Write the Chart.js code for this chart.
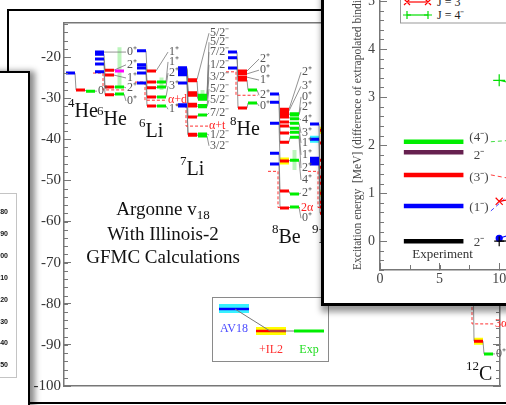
<!DOCTYPE html>
<html>
<head>
<meta charset="utf-8">
<script src="https://cdn.jsdelivr.net/npm/chart.js@4.4.0/dist/chart.umd.min.js"></script>
<style>
  html, body { margin: 0; padding: 0; background: #fff; }
  body { width: 506px; height: 405px; position: relative; overflow: hidden; font-family: "Liberation Serif", "Times New Roman", serif; }
  .abs { position: absolute; }
  #mainFrame { left: 7px; top: 9px; width: 560px; height: 391px; border-top: 2px solid #000; border-left: 2px solid #000; border-bottom: 2px solid #000; background: #fff; }
  #sidePanel { left: -12px; top: 71px; width: 40px; height: 360px; border-top: 2px solid #000; border-right: 2px solid #000; background: #fff; box-shadow: 5px 0 6px rgba(0,0,0,.45); }
  #sideBox { left: -10px; top: 193px; width: 25px; height: 183px; border: 1px solid #c4c4c4; }
  .yr { position: absolute; left: -30px; width: 38px; text-align: right; font: bold 7px "Liberation Sans", Arial, sans-serif; color: #111; line-height: 8px; }
  #rightPanel { left: 321px; top: -20px; width: 300px; height: 323px; border-left: 3px solid #000; border-bottom: 3px solid #000; background: #fff; box-shadow: 0 6px 6px rgba(0,0,0,.4); }
  #spinChart { left: 324px; top: -70px; }
</style>
</head>
<body>
<div id="mainFrame" class="abs"></div>
<canvas id="levelChart" class="abs" width="506" height="405" style="left:0;top:0"></canvas>

<svg class="abs" style="left:212px;top:297px" width="118" height="66">
  <rect x="0.5" y="0.5" width="116" height="64" fill="none" stroke="#8a8a8a" stroke-width="1"/>
  <rect x="7" y="7" width="30" height="9" fill="#38f2ff"/>
  <line x1="7" y1="12" x2="37" y2="12" stroke="#0000ff" stroke-width="2.5"/>
  <rect x="44" y="30" width="30" height="8" fill="#ffff00"/>
  <line x1="44" y1="34" x2="74" y2="34" stroke="#ff0000" stroke-width="2.5"/>
  <line x1="23" y1="12" x2="58" y2="34" stroke="#777" stroke-width="1"/>
  <line x1="58" y1="34" x2="82" y2="34" stroke="#777" stroke-width="1"/>
  <line x1="82" y1="34" x2="112" y2="34" stroke="#00ee00" stroke-width="3"/>
  <text x="22" y="35" text-anchor="middle" font-size="12" font-family="Liberation Serif" fill="#4a4aff">AV18</text>
  <text x="59" y="56" text-anchor="middle" font-size="12" font-family="Liberation Serif" fill="#ff3030">+IL2</text>
  <text x="97" y="56" text-anchor="middle" font-size="12" font-family="Liberation Serif" fill="#22dd22">Exp</text>
</svg>

<div id="sidePanel" class="abs"></div>
<div id="sideBox" class="abs"></div>
<div id="sideNums"></div>

<div id="rightPanel" class="abs"></div>
<canvas id="spinChart" class="abs" width="400" height="373"></canvas>
<svg class="abs" style="left:400px;top:-20px" width="110" height="44">
  <rect x="0.5" y="0.5" width="130" height="42.5" fill="#fff" stroke="#999" stroke-width="1"/>
  <line x1="7" y1="22" x2="28" y2="22" stroke="#ff0000" stroke-width="1.2"/>
  <path d="M4 19 L10 25 M10 19 L4 25 M25 19 L31 25 M31 19 L25 25" stroke="#ff0000" stroke-width="1.2"/>
  <text x="37" y="25.5" font-size="12" font-family="Liberation Serif" fill="#222">J = 3⁻</text>
  <line x1="7" y1="35" x2="28" y2="35" stroke="#00dd00" stroke-width="1.2"/>
  <path d="M7 31 L7 39 M3 35 L11 35 M28 31 L28 39 M24 35 L32 35" stroke="#00dd00" stroke-width="1.2"/>
  <text x="37" y="39" font-size="12" font-family="Liberation Serif" fill="#222">J = 4⁻</text>
</svg>

<script>
// ---- nuclei (left to right) ----
const massNumbers = ['4', '6', '6', '7', '8', '8', '9', '12'];
const symbols = ['He', 'He', 'Li', 'Li', 'He', 'Be', 'Be', 'C'];
const columnPos = [2, 31, 73, 114, 164, 206, 246, 400];

// level energies in MeV, one entry per state, ground state first
const av18Levels = [
  [-23.9],
  [-23.6, -21.7, -20.5, -19.3, -18.8],
  [-26.3, -23.9, -22.7, -21.9, -18.5],
  [-31.9, -31.6, -26.3, -24.3, -24.1, -23.8, -23.5, -23.2, -22.9, -22.6],
  [-22.7, -20.2, -18.8, null, null],
  [-46.0, -43.4, -36.1, -31.0, -29.0, null, null, null, null, null, null, null],
  [-46.0, -45.3, -44.6, -40.0, -36.3],
  [-70.3]
];
const il2Levels = [
  [-28.0],
  [-29.2, -27.3, -24.4, -23.2, null],
  [-31.9, -29.7, -27.5, -26.1, -23.4],
  [-39.0, -38.8, -34.6, -31.9, -31.5, -29.3, -29.0, -28.7, -25.8, -25.5],
  [-32.4, -25.6, -24.9, -24.1, -23.4],
  [-56.7, -52.6, -45.3, -40.7, -38.5, -36.8, -35.8, -34.6, -33.9, -33.5, -33.1, -32.7],
  [-58.0, -56.5, -55.3, -53.1, -50.7, -49.2, -46.8, -45.1, -40.9, -37.8],
  [-89.1]
];
const expLevels = [
  [-28.3],
  [-29.0, -27.3, null, null, null],
  [-31.9, -29.7, -27.3, -26.1, null],
  [-39.2, -38.7, -34.1, -32.1, -31.8, -30.3, -30.0, -29.6, -29.3, null],
  [-31.2, -28.0, null, null, null],
  [-56.5, -53.3, -45.1, -39.5, -38.3, -37.3, -36.1, -35.0, -34.1, -33.8, null, null],
  [-58.2, -56.5, -55.7, -55.4, -55.1, -53.5, -52.6, -51.8, -51.4, -50.2],
  [-92.2]
];
const stateLabels = [
  ['0⁺'],
  ['0⁺', '2⁺', '1⁺', '2⁺', '0⁺'],
  ['1⁺', '3⁺', '2⁺', '1⁺', '1⁺'],
  ['3/2⁻', '1/2⁻', '7/2⁻', '5/2⁻', '5/2⁻', '3/2⁻', '1/2⁻', '7/2⁻', '5/2⁻', '5/2⁻'],
  ['0⁺', '2⁺', '1⁺', '0⁺', '2⁺'],
  ['0⁺', '2⁺', '4⁺', '2⁺', '1⁺', '1⁺', '3⁺', '4⁺', '2⁺', '0⁺', '3⁺', '2⁺'],
  [],
  ['0⁺']
];
// tentative experimental level, broad experimental states (low, high)
const tentativeExp = [[], [-23.4], [], [], [], [], [], []];
const broadExp = [[], [[-17.6, -27.3]], [[-25.0, -28.0]], [[-28.0, -30.5]], [], [[-42.6, -47.5]], [], []];
// highlighted levels
const il2Marked = [[], [], [], [], [], [-33.9, -45.3], [-37.8, -53.1], [-89.1]];
const av18Marked = [[], [], [], [], [], [], [-40.0], []];
// breakup thresholds: AV18 value, IL2/experiment value
const thresholdNames = ['', '', 'α+d', 'α+t', '', '2α', '', '3α'];
const thresholdAV18 = [null, -23.9, -26.1, -31.7, -23.6, -47.8, -47.8, -72.3];
const thresholdExp = [null, -28.0, -30.5, -36.8, -29.3, -56.6, -56.6, -84.9];

// ---- label placement (energy axis) ----
const stateLabelE = [
  [-28.3],
  [-30.7, -27.5, -25.1, -21.9, -18.8],
  [-32.7, -27.1, -23.9, -21.2, -18.8],
  [-41.6, -39.0, -33.6, -30.5, -27.8, -24.9, -21.9, -18.8, -16.4, -14.2],
  [-31.9, -29.3, -25.6, -23.2, -20.5],
  [-59.2, -53.1, -49.9, -47.0, -43.8, -40.9, -38.5, -35.3, -32.2, -29.7, -27.1, -23.7],
  [],
  [-92.2]
];
const nameBaseline = [-34.6, -36.5, -39.5, -48.7, -39.0, -65.3, -65.3, -98.6];

// ---- spin-state panel ----
const expSpan = [2, 7];
const expLevelsR = [0, 0.73, 1.38, 1.85, 2.07];
const expNamesR = ['2⁻', '(1⁻)', '(3⁻)', '2⁻', '(4⁻)'];
const expNamePosR = [-0.02, 0.69, 1.33, 1.79, 2.15];
const calcX = [10, 15];
const calcJ1 = [0.06, 0.45];
const calcJ2 = [0, 0.02];
const calcJ3 = [0.83, 1.05];
const calcJ4 = [3.35, 3.05];
const linkX = [9.3, 11];
const linkJ1 = [0.63, 1.0];
const linkJ3 = [1.38, 1.3];
const linkJ4 = [2.07, 2.1];

const FONT = '"Liberation Serif", "Times New Roman", serif';
const AXIS = '#777';
const COL = [0, 10, 20];  // AV18, +IL2, Exp column offsets
const BAR = 9;
const LABEL_DX = 32;

// side panel year column
const sideNums = document.getElementById('sideNums');
['180', '190', '200', '210', '220', '230', '240', '250'].forEach((t, i) => {
  const d = document.createElement('div');
  d.className = 'yr';
  d.style.top = (208 + i * 21.9) + 'px';
  d.textContent = t;
  sideNums.appendChild(d);
});

// draws short minor tick marks inward from an axis
const minorTicks = {
  id: 'minorTicks',
  afterDraw(chart, args, opts) {
    const ctx = chart.ctx;
    ctx.save();
    ctx.strokeStyle = AXIS;
    ctx.lineWidth = 1;
    (opts.axes || []).forEach(a => {
      const s = chart.scales[a.id];
      ctx.beginPath();
      const first = Math.ceil(s.min / a.step - 1e-9) * a.step;
      for (let v = first; v <= s.max + 1e-9; v += a.step) {
        const p = Math.round(s.getPixelForValue(v)) + 0.5;
        if (s.position === 'bottom') { ctx.moveTo(p, s.top); ctx.lineTo(p, s.top - a.len); }
        else if (s.position === 'left') { ctx.moveTo(s.right, p); ctx.lineTo(s.right + a.len, p); }
        else { ctx.moveTo(s.left, p); ctx.lineTo(s.left - a.len, p); }
      }
      ctx.stroke();
    });
    ctx.restore();
  }
};

// ---- level diagram ----
function addSeg(arr, x1, y1, x2, y2) {
  arr.push({ x: x1, y: y1 }, { x: x2, y: y2 }, { x: x2, y: null });
}

const segs = { av18: [], il2: [], exp: [], tent: [], broad: [], markIL2: [], markAV18: [], links: [], leaders: [], thr: [] };
const colKeys = ['av18', 'il2', 'exp'];

columnPos.forEach((x0, n) => {
  const rows = [av18Levels[n], il2Levels[n], expLevels[n]];
  rows.forEach((lv, c) => lv.forEach(e => {
    if (e !== null) addSeg(segs[colKeys[c]], x0 + COL[c], e, x0 + COL[c] + BAR, e);
  }));
  const nStates = Math.max(...rows.map(r => r.length));
  for (let i = 0; i < nStates; i++) {
    const a = rows[0][i], b = rows[1][i], c = rows[2][i];
    if (a != null && b != null) addSeg(segs.links, x0 + COL[0] + BAR, a, x0 + COL[1], b);
    if (b != null && c != null) addSeg(segs.links, x0 + COL[1] + BAR, b, x0 + COL[2], c);
  }
  stateLabels[n].forEach((t, i) => {
    let k = 2;
    while (k >= 0 && rows[k][i] == null) k--;
    if (k >= 0) addSeg(segs.leaders, x0 + COL[k] + BAR, rows[k][i], x0 + LABEL_DX - 1, stateLabelE[n][i]);
  });
  tentativeExp[n].forEach(e => addSeg(segs.tent, x0 + COL[2], e, x0 + COL[2] + BAR, e));
  broadExp[n].forEach(([lo, hi]) => addSeg(segs.broad, x0 + COL[2] + 4.5, lo, x0 + COL[2] + 4.5, hi));
  il2Marked[n].forEach(e => addSeg(segs.markIL2, x0 + COL[1], e, x0 + COL[1] + BAR, e));
  av18Marked[n].forEach(e => addSeg(segs.markAV18, x0 + COL[0], e, x0 + COL[0] + BAR, e));
  if (thresholdExp[n] != null) {
    const ta = thresholdAV18[n], te = thresholdExp[n], xv = x0 + 8;
    segs.thr.push({ x: x0 - 2, y: ta }, { x: xv, y: ta }, { x: xv, y: te }, { x: x0 + 30, y: te }, { x: x0 + 30, y: null });
  }
});

const lineSet = (label, data, color, width, order, dash) => ({
  type: 'line', label, data, borderColor: color, borderWidth: width, borderDash: dash || [],
  pointRadius: 0, spanGaps: false, tension: 0, order, fill: false
});

const levelText = {
  id: 'levelText',
  afterDatasetsDraw(chart) {
    const { ctx, scales: { x, y } } = chart;
    ctx.save();
    ctx.textAlign = 'left';
    columnPos.forEach((x0, n) => {
      ctx.textBaseline = 'middle';
      ctx.font = `12px ${FONT}`;
      ctx.fillStyle = '#555';
      stateLabels[n].forEach((t, i) => {
        ctx.fillText(t, x.getPixelForValue(x0 + LABEL_DX), y.getPixelForValue(stateLabelE[n][i]));
      });
      if (thresholdNames[n]) {
        ctx.fillStyle = '#ff2020';
        ctx.fillText(thresholdNames[n], x.getPixelForValue(x0 + LABEL_DX - 1), y.getPixelForValue(thresholdExp[n]));
      }
      // nucleus name with raised mass number
      ctx.textBaseline = 'alphabetic';
      ctx.fillStyle = '#111';
      const px = x.getPixelForValue(x0 + 2), py = y.getPixelForValue(nameBaseline[n]);
      ctx.font = `13px ${FONT}`;
      const w = ctx.measureText(massNumbers[n]).width;
      ctx.fillText(massNumbers[n], px, py - 10);
      ctx.font = `20px ${FONT}`;
      ctx.fillText(symbols[n], px + w, py);
    });
    // caption
    const cx = x.getPixelForValue(99);
    ctx.fillStyle = '#111';
    ctx.font = `19px ${FONT}`;
    const w1 = ctx.measureText('Argonne v').width;
    ctx.font = `13px ${FONT}`;
    const w2 = ctx.measureText('18').width;
    const y1 = y.getPixelForValue(-58.4);
    ctx.font = `19px ${FONT}`;
    ctx.fillText('Argonne v', cx - (w1 + w2) / 2, y1);
    ctx.font = `13px ${FONT}`;
    ctx.fillText('18', cx - (w1 + w2) / 2 + w1, y1 + 4);
    ctx.font = `19px ${FONT}`;
    ctx.textAlign = 'center';
    ctx.fillText('With Illinois-2', cx, y.getPixelForValue(-64.5));
    ctx.fillText('GFMC Calculations', cx, y.getPixelForValue(-70.1));
    ctx.restore();
  }
};

const energyAxis = (position, width, showLabels) => ({
  type: 'linear', position, min: -100, max: -11.73,
  afterFit: s => { s.width = width; s.paddingTop = 0; s.paddingBottom = 0; },
  ticks: { stepSize: 10, includeBounds: false, display: showLabels, padding: 10, color: '#333', font: { family: FONT, size: 15 } },
  grid: { drawOnChartArea: false, tickLength: -7, tickColor: AXIS },
  border: { color: AXIS, width: 1.5 }
});
const frameAxis = position => ({
  type: 'linear', position, min: 0, max: 436,
  afterFit: s => { s.height = 0; s.paddingLeft = 0; s.paddingRight = 0; },
  ticks: { display: false }, grid: { display: false },
  border: { color: AXIS, width: 1.5 }
});

new Chart(document.getElementById('levelChart'), {
  type: 'line',
  data: {
    datasets: [
      lineSet('broad', segs.broad, 'rgba(120,235,120,0.5)', 4, 9),
      lineSet('marked IL2', segs.markIL2, '#ffff00', 7, 8),
      lineSet('marked AV18', segs.markAV18, '#38f2ff', 7, 8),
      lineSet('links', segs.links, '#777', 0.8, 7),
      lineSet('leaders', segs.leaders, '#777', 0.8, 6),
      lineSet('thresholds', segs.thr, '#ff3030', 1, 5, [3, 2]),
      lineSet('AV18', segs.av18, '#0000ff', 3, 4),
      lineSet('+IL2', segs.il2, '#ff0000', 3, 3),
      lineSet('Exp', segs.exp, '#00ee00', 3, 2),
      lineSet('tentative', segs.tent, '#ff00ff', 3, 1)
    ]
  },
  options: {
    responsive: false, animation: false, events: [],
    layout: { padding: { top: 23, bottom: 19, left: 0, right: 0 } },
    scales: {
      x: frameAxis('bottom'),
      xTop: frameAxis('top'),
      y: energyAxis('left', 64, true),
      yRight: energyAxis('right', 6, false)
    },
    plugins: {
      legend: { display: false }, tooltip: { enabled: false },
      minorTicks: { axes: [{ id: 'y', step: 2, len: 4 }, { id: 'yRight', step: 2, len: 4 }] }
    }
  },
  plugins: [minorTicks, levelText]
});

// ---- spin-state panel ----
const expColors = ['#000000', '#0000ff', '#ff0000', '#66204f', '#00ee00'];
const spinSets = expLevelsR.map((e, i) => ({
  label: expNamesR[i], data: expSpan.map(xv => ({ x: xv, y: e })),
  borderColor: expColors[i], borderWidth: 4.5, pointRadius: 0, order: 3
}));
const toPts = (xs, ys) => xs.map((xv, i) => ({ x: xv, y: ys[i] }));
const calcSet = (label, ys, color, style, radius) => ({
  label, data: toPts(calcX, ys), borderColor: color, backgroundColor: color, borderWidth: 1.2,
  pointStyle: style, pointRadius: radius, pointBorderWidth: 1.2, order: 1
});
const linkSet = (ys, color) => ({
  label: 'link', data: toPts(linkX, ys), borderColor: color, borderWidth: 1, borderDash: [4, 3], pointRadius: 0, order: 2
});
spinSets.push(
  calcSet('J = 2⁻', calcJ2, '#000', 'cross', 5),
  calcSet('J = 1⁻', calcJ1, '#0000ff', 'circle', 3),
  calcSet('J = 3⁻', calcJ3, '#ff0000', 'crossRot', 5),
  calcSet('J = 4⁻', calcJ4, '#00dd00', 'cross', 6),
  linkSet(linkJ1, '#4040ff'), linkSet(linkJ3, '#ff4040'), linkSet(linkJ4, '#40dd40')
);

const spinText = {
  id: 'spinText',
  afterDatasetsDraw(chart) {
    const { ctx, scales: { x, y } } = chart;
    ctx.save();
    ctx.font = `13px ${FONT}`;
    ctx.fillStyle = '#444';
    ctx.textAlign = 'center';
    ctx.textBaseline = 'middle';
    expNamesR.forEach((t, i) => ctx.fillText(t, x.getPixelForValue(8.3), y.getPixelForValue(expNamePosR[i])));
    ctx.fillStyle = '#333';
    ctx.fillText('Experiment', x.getPixelForValue(5.25), y.getPixelForValue(-0.27));
    ctx.restore();
  }
};

new Chart(document.getElementById('spinChart'), {
  type: 'line',
  data: { datasets: spinSets },
  options: {
    responsive: false, animation: false, events: [],
    layout: { padding: { top: 23, left: 0, right: 46, bottom: 0 } },
    scales: {
      x: {
        type: 'linear', min: 0, max: 25,
        afterFit: s => { s.height = 33; s.paddingLeft = 0; s.paddingRight = 0; },
        ticks: { stepSize: 5, includeBounds: false, padding: 8, color: '#444', font: { family: FONT, size: 14 } },
        grid: { drawOnChartArea: false, tickLength: -7, tickColor: AXIS },
        border: { color: AXIS, width: 1.5 }
      },
      y: {
        type: 'linear', min: -0.6, max: 6,
        afterFit: s => { s.width = 56; s.paddingTop = 0; s.paddingBottom = 0; },
        ticks: { stepSize: 1, includeBounds: false, padding: 12, color: '#444', font: { family: FONT, size: 14 } },
        grid: { drawOnChartArea: false, tickLength: -7, tickColor: AXIS },
        border: { color: AXIS, width: 1.5 },
        title: {
          display: true, align: 'start', color: '#444',
          text: 'Excitation energy  [MeV] (difference of extrapolated binding energies)',
          font: { family: FONT, size: 11.5 }, padding: { top: 27, bottom: 0 }
        }
      }
    },
    plugins: {
      legend: { display: false }, tooltip: { enabled: false },
      minorTicks: { axes: [{ id: 'y', step: 0.2, len: 4 }, { id: 'x', step: 2.5, len: 5 }] }
    }
  },
  plugins: [minorTicks, spinText]
});
</script>
</body>
</html>
